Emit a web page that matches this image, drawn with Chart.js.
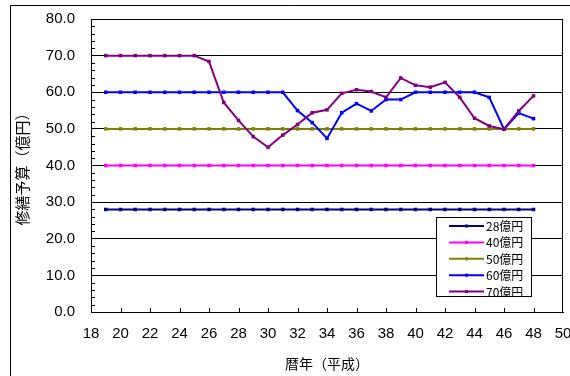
<!DOCTYPE html>
<html>
<head>
<meta charset="utf-8">
<script src="https://cdn.jsdelivr.net/npm/chart.js@4.4.1/dist/chart.umd.min.js"></script>
<style>
    html, body { margin: 0; padding: 0; background: #fff; }
</style>
</head>
<body>
<canvas id="budgetChart" width="570" height="376"></canvas>
<script>
// Years (Heisei) and budget series
const years = [19, 20, 21, 22, 23, 24, 25, 26, 27, 28, 29, 30, 31, 32, 33, 34, 35, 36, 37, 38, 39, 40, 41, 42, 43, 44, 45, 46, 47, 48];

const budget28 = [28, 28, 28, 28, 28, 28, 28, 28, 28, 28, 28, 28, 28, 28, 28, 28, 28, 28, 28, 28, 28, 28, 28, 28, 28, 28, 28, 28, 28, 28];
const budget40 = [40, 40, 40, 40, 40, 40, 40, 40, 40, 40, 40, 40, 40, 40, 40, 40, 40, 40, 40, 40, 40, 40, 40, 40, 40, 40, 40, 40, 40, 40];
const budget50 = [50, 50, 50, 50, 50, 50, 50, 50, 50, 50, 50, 50, 50, 50, 50, 50, 50, 50, 50, 50, 50, 50, 50, 50, 50, 50, 50, 50, 50, 50];
const budget60 = [60, 60, 60, 60, 60, 60, 60, 60, 60, 60, 60, 60, 60, 55.0, 51.7, 47.4, 54.4, 56.9, 54.9, 58.0, 58.0, 60, 60, 60, 60, 60, 58.6, 49.9, 54.3, 52.8];
const budget70 = [70, 70, 70, 70, 70, 70, 70, 68.4, 57.2, 52.3, 47.9, 45.0, 48.3, 51.2, 54.4, 55.2, 59.7, 60.7, 60.2, 58.6, 63.9, 61.9, 61.4, 62.7, 58.6, 52.9, 50.8, 49.9, 54.9, 59.0];

const seriesLabels = ['28億円', '40億円', '50億円', '60億円', '70億円'];
const seriesColors = ['#000080', '#ff00ff', '#808000', '#0000ff', '#800080'];
const seriesValues = [budget28, budget40, budget50, budget60, budget70];

const xTicks = [18, 20, 22, 24, 26, 28, 30, 32, 34, 36, 38, 40, 42, 44, 46, 48, 50];
const yTicks = [0, 10, 20, 30, 40, 50, 60, 70, 80];

const latinFont = '"Liberation Sans", Arial, sans-serif';
const cjkFont = '"Noto Sans CJK JP", "Liberation Sans", sans-serif';

function toPoints(values) {
    return years.map((yr, i) => ({x: yr, y: values[i]}));
}

// white page with the outer frame lines
const framePlugin = {
    id: 'frame',
    beforeDraw(chart) {
        const ctx = chart.ctx;
        ctx.save();
        ctx.fillStyle = '#fff';
        ctx.fillRect(0, 0, chart.width, chart.height);
        ctx.strokeStyle = '#000';
        ctx.lineWidth = 1;
        ctx.beginPath();
        ctx.moveTo(10.5, chart.height);
        ctx.lineTo(10.5, 5.5);
        ctx.lineTo(chart.width, 5.5);
        ctx.stroke();
        ctx.restore();
    },
    beforeDatasetsDraw(chart) {
        const ctx = chart.ctx;
        const area = chart.chartArea;
        const xs = chart.scales.x, ys = chart.scales.y;
        ctx.save();
        ctx.strokeStyle = '#000';
        ctx.lineWidth = 1;
        ctx.beginPath();
        // right edge of the plot area
        ctx.moveTo(Math.round(area.right) - 0.5, area.top);
        ctx.lineTo(Math.round(area.right) - 0.5, area.bottom);
        // inward minor ticks on the value axis
        for (let v = 2; v < 80; v += 2) {
            if (v % 10 === 0) continue;
            const py = Math.round(ys.getPixelForValue(v)) + 0.5;
            ctx.moveTo(area.left, py);
            ctx.lineTo(area.left + 4, py);
        }
        // inward ticks on the year axis
        xTicks.forEach(t => {
            if (t === 18 || t === 50) return;
            const px = Math.round(xs.getPixelForValue(t)) + 0.5;
            ctx.moveTo(px, area.bottom);
            ctx.lineTo(px, area.bottom - 4);
        });
        ctx.stroke();
        ctx.restore();
    }
};

// boxed legend inside the plot, last row cut off by the box
const boxLegendPlugin = {
    id: 'boxLegend',
    afterDraw(chart) {
        const ctx = chart.ctx;
        const bx = 436, by = 217, bw = 95, bh = 79;
        ctx.save();
        ctx.fillStyle = '#fff';
        ctx.fillRect(bx, by, bw, bh);
        ctx.strokeStyle = '#000';
        ctx.lineWidth = 1;
        ctx.strokeRect(bx + 0.5, by + 0.5, bw, bh);
        ctx.beginPath();
        ctx.rect(bx + 1, by + 1, bw - 1, bh - 1);
        ctx.clip();
        ctx.font = '12px ' + cjkFont;
        ctx.textBaseline = 'middle';
        ctx.textAlign = 'left';
        seriesLabels.forEach((label, i) => {
            const ry = by + 9 + i * 16.4;
            ctx.strokeStyle = seriesColors[i];
            ctx.lineWidth = 2;
            ctx.beginPath();
            ctx.moveTo(449, ry);
            ctx.lineTo(484, ry);
            ctx.stroke();
            ctx.fillStyle = seriesColors[i];
            ctx.fillRect(465, ry - 1.5, 3, 3);
            ctx.fillStyle = '#000';
            ctx.fillText(label, 486, ry + 0.5);
        });
        ctx.restore();
    }
};

const ctxBudget = document.getElementById('budgetChart').getContext('2d');

const budgetChart = new Chart(ctxBudget, {
    type: 'line',
    data: {
        datasets: seriesValues.map((values, i) => ({
            label: seriesLabels[i],
            data: toPoints(values),
            borderColor: seriesColors[i],
            backgroundColor: seriesColors[i],
            borderWidth: 2,
            pointStyle: 'rect',
            pointRadius: 2.5,
            pointBorderWidth: 0,
            fill: false,
            tension: 0,
            order: seriesValues.length - i
        }))
    },
    options: {
        responsive: false,
        animation: false,
        layout: {padding: {top: 19, right: 7, left: 0, bottom: 0}},
        plugins: {
            legend: {display: false},
            tooltip: {enabled: false}
        },
        scales: {
            x: {
                type: 'linear',
                min: 18,
                max: 50,
                afterBuildTicks: scale => { scale.ticks = xTicks.map(v => ({value: v})); },
                afterFit: scale => {
                    scale.height = 64;
                    scale.paddingLeft = 0;
                    scale.paddingRight = 0;
                },
                ticks: {
                    color: '#000',
                    font: {family: latinFont, size: 15},
                    padding: 13,
                    maxRotation: 0,
                    autoSkip: false
                },
                grid: {display: false, drawTicks: false},
                border: {display: true, color: '#000', width: 1},
                title: {
                    display: true,
                    text: '暦年（平成）',
                    color: '#000',
                    font: {family: cjkFont, size: 14},
                    padding: {top: 0, bottom: 4}
                }
            },
            y: {
                min: 0,
                max: 80,
                afterBuildTicks: scale => { scale.ticks = yTicks.map(v => ({value: v})); },
                afterFit: scale => {
                    scale.width = 91;
                    scale.paddingTop = 0;
                    scale.paddingBottom = 0;
                },
                ticks: {
                    color: '#000',
                    font: {family: latinFont, size: 15},
                    padding: 16,
                    callback: v => v.toFixed(1)
                },
                grid: {color: '#000', lineWidth: 1, drawTicks: false},
                border: {display: true, color: '#000', width: 1},
                title: {
                    display: true,
                    text: '修繕予算（億円）',
                    color: '#000',
                    font: {family: cjkFont, size: 15},
                    padding: {top: 13, bottom: 0}
                }
            }
        }
    },
    plugins: [framePlugin, boxLegendPlugin]
});
</script>
</body>
</html>
